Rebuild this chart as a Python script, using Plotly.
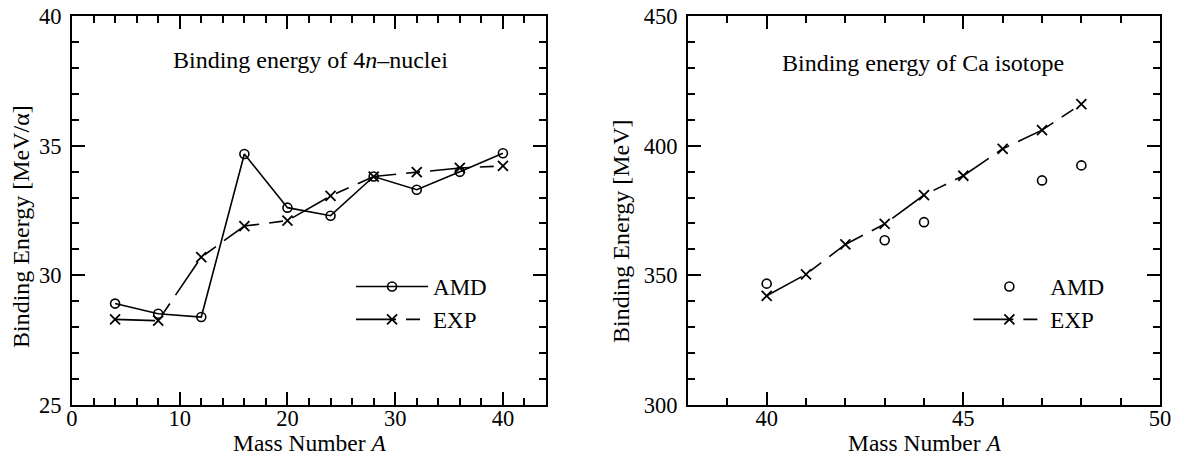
import plotly.graph_objects as go

# --- 4n (alpha-conjugate) nuclei: binding energy per alpha [MeV/alpha] ---
mass_4n = [4, 8, 12, 16, 20, 24, 28, 32, 36, 40]
amd_4n = [28.91, 28.52, 28.39, 34.68, 32.61, 32.30, 33.81, 33.30, 33.99, 34.71]
exp_4n = [28.30, 28.25, 30.70, 31.90, 32.11, 33.06, 33.81, 33.98, 34.14, 34.22]

# --- Ca isotopes: total binding energy [MeV] ---
mass_ca_exp = [40, 41, 42, 43, 44, 45, 46, 47, 48]
exp_ca = [342.1, 350.4, 361.9, 369.8, 380.96, 388.4, 398.8, 406.0, 416.0]
mass_ca_amd = [40, 43, 44, 47, 48]
amd_ca = [346.8, 363.5, 370.5, 386.6, 392.4]

FONT = "Liberation Serif"
BLACK = "black"
EXP_DASH = "40px,10px,14px,10px"

fig = go.Figure()

# left panel
fig.add_trace(go.Scatter(
    x=mass_4n, y=amd_4n, name="AMD", mode="lines+markers",
    line=dict(color=BLACK, width=1.6),
    marker=dict(symbol="circle-open", size=9, color=BLACK, line=dict(width=1.6)),
    xaxis="x", yaxis="y", legend="legend",
))
fig.add_trace(go.Scatter(
    x=mass_4n, y=exp_4n, name="EXP", mode="lines+markers",
    line=dict(color=BLACK, width=1.6, dash=EXP_DASH),
    marker=dict(symbol="x-thin", size=10, color=BLACK, line=dict(width=1.8, color=BLACK)),
    xaxis="x", yaxis="y", legend="legend",
))

# right panel
fig.add_trace(go.Scatter(
    x=mass_ca_amd, y=amd_ca, name="AMD", mode="markers",
    marker=dict(symbol="circle-open", size=9, color=BLACK, line=dict(width=1.6)),
    xaxis="x2", yaxis="y2", legend="legend2",
))
fig.add_trace(go.Scatter(
    x=mass_ca_exp, y=exp_ca, name="EXP", mode="lines+markers",
    line=dict(color=BLACK, width=1.6, dash=EXP_DASH),
    marker=dict(symbol="x-thin", size=10, color=BLACK, line=dict(width=1.8, color=BLACK)),
    xaxis="x2", yaxis="y2", legend="legend2",
))

tickfont = dict(family=FONT, size=22.5, color=BLACK)


def axis_style(rng, dtick, minor_dtick, domain, anchor, standoff):
    return dict(
        range=rng, dtick=dtick, tick0=0, domain=domain, anchor=anchor,
        automargin=False,
        showgrid=False, zeroline=False,
        showline=True, linecolor=BLACK, linewidth=2, mirror="allticks",
        ticks="inside", ticklen=13, tickwidth=2, tickcolor=BLACK,
        tickfont=tickfont, ticklabelstandoff=standoff,
        minor=dict(dtick=minor_dtick, ticks="inside", ticklen=7, tickwidth=1.6,
                   tickcolor=BLACK, showgrid=False),
    )


xd1 = [0.0607, 0.4604]
xd2 = [0.5801, 0.9781]
yd = [0.1138, 0.965]

legend_common = dict(xanchor="left", yanchor="middle", bgcolor="rgba(0,0,0,0)",
                     itemwidth=72, tracegroupgap=0,
                     font=dict(family=FONT, size=23, color=BLACK))

fig.update_layout(
    width=1186, height=457,
    margin=dict(l=0, r=0, t=0, b=0),
    paper_bgcolor="white", plot_bgcolor="white",
    font=dict(family=FONT, color=BLACK),
    xaxis=axis_style([0, 44], 10, 2, xd1, "y", -8),
    yaxis=axis_style([25, 40], 5, 1, yd, "x", 4),
    xaxis2=axis_style([38, 50], 5, 1, xd2, "y2", -8),
    yaxis2=axis_style([300, 450], 50, 10, yd, "x2", 4),
    legend=dict(x=0.296, y=0.337, **legend_common),
    legend2=dict(x=0.8165, y=0.337, **legend_common),
)

title_font = dict(family=FONT, size=24, color=BLACK)
xtitle_font = dict(family=FONT, size=23.5, color=BLACK)
label_font = dict(family=FONT, size=24, color=BLACK)
annotations = [
    dict(text="Binding energy of 4<i>n</i>\u2013nuclei", x=22.1, y=38.3,
         xref="x", yref="y", showarrow=False, font=label_font,
         xanchor="center", yanchor="middle"),
    dict(text="Binding energy of Ca isotope", x=43.97, y=431.9,
         xref="x2", yref="y2", showarrow=False, font=label_font,
         xanchor="center", yanchor="middle"),
    dict(text="Mass Number <i>A</i>", x=sum(xd1) / 2, y=0,
         xref="paper", yref="paper", showarrow=False, font=xtitle_font,
         xanchor="center", yanchor="bottom", borderpad=0),
    dict(text="Mass Number <i>A</i>", x=sum(xd2) / 2, y=0,
         xref="paper", yref="paper", showarrow=False, font=xtitle_font,
         xanchor="center", yanchor="bottom", borderpad=0),
    dict(text="Binding Energy [MeV/\u03b1]", x=21 / 1186, y=1 - 227 / 457,
         xref="paper", yref="paper", showarrow=False, textangle=-90, font=title_font,
         xanchor="center", yanchor="middle"),
    dict(text="Binding Energy [MeV]", x=621 / 1186, y=1 - 231 / 457,
         xref="paper", yref="paper", showarrow=False, textangle=-90, font=title_font,
         xanchor="center", yanchor="middle"),
]
fig.update_layout(annotations=annotations)

fig.write_html("out.html")
